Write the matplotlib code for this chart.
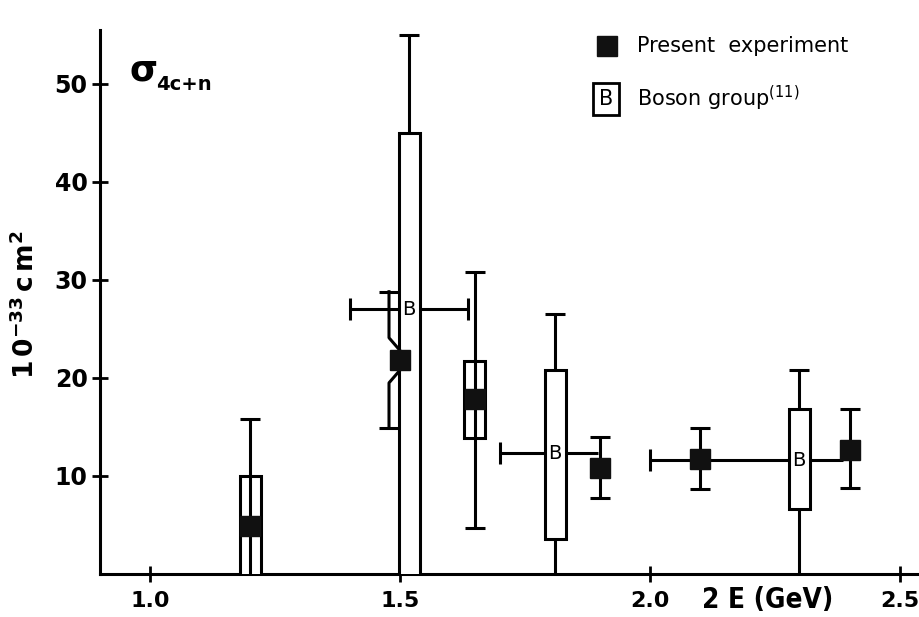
import numpy as np
import matplotlib.pyplot as plt
from matplotlib.patches import Rectangle

# present experiment: sigma(4c+n), 10^-33 cm^2
pe_x = [1.2, 1.5, 1.65, 1.9, 2.1, 2.4]
pe_y = [4.9, 21.8, 17.9, 10.8, 11.7, 12.7]
pe_lo = [-6.0, 14.9, 4.7, 7.8, 8.7, 8.8]
pe_hi = [15.8, 28.8, 30.8, 14.0, 14.9, 16.8]
pe_shift = [0, -0.022, 0, 0, 0, 0]   # bar moved aside where it meets a Boson box

# Boson group (ref. 11)
bg_x = [1.2, 1.518, 1.648, 1.81, 2.298]
bg_y = [5.0, 27.0, 17.8, 12.3, 11.6]
bg_box_lo = [-2.0, -2.0, 13.9, 3.6, 6.6]
bg_box_hi = [10.0, 45.0, 21.7, 20.8, 16.8]
bg_err_lo = [-2.0, -2.0, 13.9, -4.0, -4.0]
bg_err_hi = [10.0, 55.0, 21.7, 26.5, 20.8]
bg_e_lo = [np.nan, 1.40, np.nan, 1.70, 2.0]
bg_e_hi = [np.nan, 1.635, np.nan, 1.895, 2.385]
bg_cap_right = [False, True, False, False, False]

lw = 2.2
box_w = 0.042

fig = plt.figure(figsize=(9.2, 6.17), dpi=100)
ax = fig.add_axes([0.1087, 0.0697, 0.8913, 0.8817])

# Boson group: energy bins, whiskers, boxes
for x, y, elo, ehi, capr in zip(bg_x, bg_y, bg_e_lo, bg_e_hi, bg_cap_right):
    if np.isnan(elo):
        continue
    ax.hlines(y, elo, ehi, color="black", lw=lw, zorder=2)
    ax.plot(elo, y, marker="|", ms=16, mew=lw, color="black", zorder=2)
    if capr:
        ax.plot(ehi, y, marker="|", ms=16, mew=lw, color="black", zorder=2)

for x, y, blo, bhi, wlo, whi in zip(bg_x, bg_y, bg_box_lo, bg_box_hi,
                                    bg_err_lo, bg_err_hi):
    if whi > bhi:
        ax.vlines(x, bhi, whi, color="black", lw=lw, zorder=2)
        ax.plot(x, whi, marker="_", ms=15, mew=lw, color="black", zorder=2)
    if wlo < blo:
        ax.vlines(x, wlo, blo, color="black", lw=lw, zorder=2)
    ax.add_patch(Rectangle((x - box_w / 2, blo), box_w, bhi - blo,
                           facecolor="white", edgecolor="black", lw=lw,
                           zorder=3))
    ax.text(x, y, "B", ha="center", va="center", fontsize=14, zorder=4)

# present experiment
for x, y, lo, hi, dx in zip(pe_x, pe_y, pe_lo, pe_hi, pe_shift):
    if dx == 0:
        ax.vlines(x, lo, hi, color="black", lw=lw, zorder=4)
    else:
        ax.plot([x + dx, x + dx, x], [hi, y + 2.3, y + 1.0],
                color="black", lw=lw, zorder=4)
        ax.plot([x + dx, x + dx, x], [lo, y - 2.3, y - 1.0],
                color="black", lw=lw, zorder=4)
    ax.plot([x + dx, x + dx], [lo, hi], ls="none", marker="_", ms=15,
            mew=lw, color="black", zorder=4)
ax.plot(pe_x, pe_y, "s", ms=15, color="#111111", zorder=5)

# axes
ax.set_xlim(0.9, 2.54)
ax.set_ylim(0, 55.5)
for s in ["top", "right"]:
    ax.spines[s].set_visible(False)
for s in ["left", "bottom"]:
    ax.spines[s].set_linewidth(2.2)
ax.set_xticks([1.0, 1.5, 2.0, 2.5])
ax.set_xticklabels(["1.0", "1.5", "2.0", "2.5"], fontsize=16,
                   fontweight="bold")
ax.set_yticks([10, 20, 30, 40, 50])
ax.set_yticklabels(["10", "20", "30", "40", "50"], fontsize=17,
                   fontweight="bold")
ax.tick_params(direction="inout", length=12, width=2)
ax.tick_params(axis="x", pad=6)
ax.tick_params(axis="y", pad=3)

ax.text(2.236, -0.048, "2 E (GeV)", transform=ax.get_xaxis_transform(),
        ha="center", va="center", fontsize=20, fontweight="bold",
        fontstretch="condensed",
        family=["Liberation Sans Narrow", "DejaVu Sans"])
ax.text(-0.091, 0.494, r"$\mathbf{1\,0^{-33}\,c\,m^2}$",
        transform=ax.transAxes, rotation=90, ha="center", va="center",
        fontsize=19)
ax.text(0.958, 50.3, "σ", fontsize=26, fontweight="bold",
        va="baseline", ha="left")
ax.text(1.012, 49.4, "4c+n", fontsize=14, fontweight="bold",
        va="baseline", ha="left")

# legend
ax.plot(0.618, 0.971, "s", ms=14, color="#111111", transform=ax.transAxes,
        clip_on=False)
ax.text(0.655, 0.9596, "Present  experiment", transform=ax.transAxes,
        fontsize=15, va="baseline")
ax.text(0.617, 0.873, "B", transform=ax.transAxes, fontsize=15,
        ha="center", va="center",
        bbox=dict(boxstyle="square,pad=0.3", fc="white", ec="black", lw=2))
ax.text(0.655, 0.860, r"Boson group$^{(11)}$",
        transform=ax.transAxes, fontsize=15, va="baseline")

fig.savefig("out.png", dpi=100)
